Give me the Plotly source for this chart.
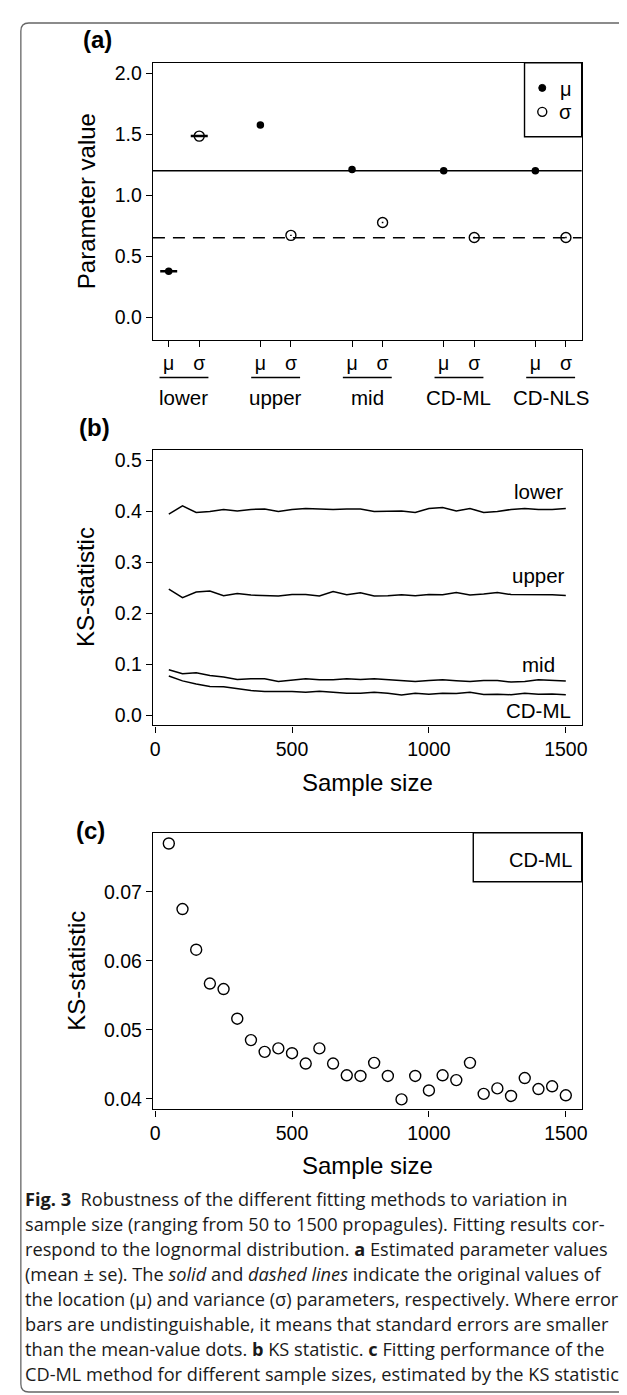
import plotly.graph_objects as go

W, H = 627, 1395

# ---------------- data ----------------
# Panel (a): estimated parameter values per fitting method
groups = ["lower", "upper", "mid", "CD-ML", "CD-NLS"]
mu_vals = [0.375, 1.575, 1.210, 1.199, 1.199]
sigma_vals = [1.484, 0.670, 0.776, 0.652, 0.652]
mu_se = [0.004, 0.0, 0.0, 0.0, 0.0]
sigma_se = [0.004, 0.0, 0.0, 0.0, 0.0]
true_mu = 1.2
true_sigma = 0.65
param_labels = ["μ", "σ"]
a_yticks = [0.0, 0.5, 1.0, 1.5, 2.0]

# Panel (b)/(c): KS statistic vs sample size
sample_size = [50, 100, 150, 200, 250, 300, 350, 400, 450, 500,
               550, 600, 650, 700, 750, 800, 850, 900, 950, 1000,
               1050, 1100, 1150, 1200, 1250, 1300, 1350, 1400, 1450, 1500]
ks_lower = [0.395, 0.411, 0.398, 0.400, 0.404, 0.401, 0.404, 0.405, 0.400, 0.404,
            0.406, 0.405, 0.404, 0.405, 0.405, 0.400, 0.401, 0.401, 0.398, 0.406,
            0.408, 0.401, 0.406, 0.398, 0.400, 0.404, 0.406, 0.404, 0.404, 0.406]
ks_upper = [0.2476, 0.231, 0.242, 0.244, 0.2345, 0.239, 0.236, 0.2345, 0.234, 0.237,
            0.237, 0.234, 0.243, 0.2365, 0.2405, 0.234, 0.2345, 0.2365, 0.2345, 0.237,
            0.2365, 0.241, 0.236, 0.238, 0.241, 0.237, 0.237, 0.2365, 0.2365, 0.235]
ks_mid = [0.0893, 0.0814, 0.0834, 0.0780, 0.0750, 0.0704, 0.0717, 0.0717, 0.0665, 0.0684,
          0.0717, 0.0697, 0.0697, 0.0717, 0.0704, 0.0717, 0.0697, 0.0678, 0.0665, 0.0684,
          0.0697, 0.0678, 0.0665, 0.0684, 0.0684, 0.0651, 0.0665, 0.0697, 0.0684, 0.0671]
ks_cdml = [0.0770, 0.0675, 0.0616, 0.0567, 0.0559, 0.0516, 0.0485, 0.0468, 0.0473, 0.0466,
           0.0451, 0.0473, 0.0451, 0.0434, 0.0433, 0.0452, 0.0433, 0.0399, 0.0433, 0.0412,
           0.0434, 0.0427, 0.0452, 0.0407, 0.0415, 0.0404, 0.0430, 0.0414, 0.0418, 0.0405]
b_series = [("lower", ks_lower, 0.439), ("upper", ks_upper, 0.275),
            ("mid", ks_mid, 0.0996), ("CD-ML", ks_cdml, 0.0098)]
b_yticks = [0.0, 0.1, 0.2, 0.3, 0.4, 0.5]
c_yticks = [0.04, 0.05, 0.06, 0.07]
x_ticks = [0, 500, 1000, 1500]

caption_lines = [
    "<b>Fig. 3</b>  Robustness of the different fitting methods to variation in",
    "sample size (ranging from 50 to 1500 propagules). Fitting results cor-",
    "respond to the lognormal distribution. <b>a</b> Estimated parameter values",
    "(mean ± se). The <i>solid</i> and <i>dashed lines</i> indicate the original values of",
    "the location (μ) and variance (σ) parameters, respectively. Where error",
    "bars are undistinguishable, it means that standard errors are smaller",
    "than the mean-value dots. <b>b</b> KS statistic. <b>c</b> Fitting performance of the",
    "CD-ML method for different sample sizes, estimated by the KS statistic",
]

# ---------------- helpers ----------------
FONT = "Liberation Sans, Arial, sans-serif"
CAP_FONT = "Open Sans, sans-serif"


def px(x):
    return x / W


def py(y):
    return 1 - y / H


mu_x = [3 * i + 1 for i in range(len(groups))]
sigma_x = [3 * i + 2 for i in range(len(groups))]

fig = go.Figure()

# ---- panel (a) ----
err_idx = [i for i in range(len(groups)) if mu_se[i] > 0]
fig.add_trace(go.Scatter(
    x=[mu_x[i] for i in err_idx] + [sigma_x[i] for i in err_idx],
    y=[mu_vals[i] for i in err_idx] + [sigma_vals[i] for i in err_idx],
    mode="markers", marker=dict(size=1, opacity=0),
    error_y=dict(type="data", array=[mu_se[i] for i in err_idx] + [sigma_se[i] for i in err_idx],
                 color="black", thickness=1.5, width=8.5),
    xaxis="x", yaxis="y", showlegend=False, hoverinfo="skip"))
# tiny error segments visible inside the open circles
fig.add_trace(go.Scatter(
    x=[sigma_x[i] for i in range(len(groups)) if i not in err_idx],
    y=[sigma_vals[i] for i in range(len(groups)) if i not in err_idx],
    mode="markers", marker=dict(size=1, opacity=0),
    error_y=dict(type="constant", value=0.006, color="black", thickness=1.6, width=0),
    xaxis="x", yaxis="y", showlegend=False, hoverinfo="skip"))
fig.add_trace(go.Scatter(x=mu_x, y=mu_vals, mode="markers", name="μ",
                         marker=dict(symbol="circle", size=7.5, color="black"),
                         xaxis="x", yaxis="y", showlegend=False))
fig.add_trace(go.Scatter(x=sigma_x, y=sigma_vals, mode="markers", name="σ",
                         marker=dict(symbol="circle-open", size=10, color="black",
                                     line=dict(width=1.4, color="black")),
                         xaxis="x", yaxis="y", showlegend=False))

# ---- panel (b) ----
for name, vals, ly in b_series:
    fig.add_trace(go.Scatter(x=sample_size, y=vals, mode="lines", name=name,
                             line=dict(color="black", width=1.5),
                             xaxis="x2", yaxis="y2", showlegend=False))

# ---- panel (c) ----
fig.add_trace(go.Scatter(x=sample_size, y=ks_cdml, mode="markers", name="CD-ML",
                         marker=dict(symbol="circle-open", size=11, color="black",
                                     line=dict(width=1.4, color="black")),
                         xaxis="x3", yaxis="y3", showlegend=False))

xdom = [px(144), px(579)]
axis_common = dict(showline=True, linecolor="black", linewidth=1.4, mirror=True,
                   ticks="outside", tickcolor="black", tickwidth=1.3, ticklen=6,
                   showgrid=False, zeroline=False,
                   tickfont=dict(family=FONT, size=19.5, color="black"))

fig.update_layout(
    width=W, height=H, margin=dict(l=0, r=0, t=0, b=0),
    paper_bgcolor="white", plot_bgcolor="white",
    xaxis=dict(domain=xdom, range=[0.484, 3 * len(groups) - 0.484],
               tickvals=mu_x + sigma_x,
               ticktext=[param_labels[0]] * len(groups) + [param_labels[1]] * len(groups),
               anchor="y", **axis_common),
    yaxis=dict(domain=[py(331), py(54)], range=[-0.184, 2.084],
               tickvals=a_yticks, ticktext=[f"{v:.1f}" for v in a_yticks],
               anchor="x", **axis_common),
    xaxis2=dict(domain=xdom, range=[-8, 1558], tickvals=x_ticks,
                anchor="y2", **axis_common),
    yaxis2=dict(domain=[py(717.5), py(442)], range=[-0.02, 0.52],
                tickvals=b_yticks, ticktext=[f"{v:.1f}" for v in b_yticks],
                anchor="x2", **axis_common),
    xaxis3=dict(domain=xdom, range=[-8, 1558], tickvals=x_ticks,
                anchor="y3", **axis_common),
    yaxis3=dict(domain=[py(1102), py(825)], range=[0.03845, 0.07855],
                tickvals=c_yticks, ticktext=[f"{v:.2f}" for v in c_yticks],
                anchor="x3", **axis_common),
)

shapes = []
annotations = []

# reference lines in (a)
shapes.append(dict(type="line", xref="x domain", yref="y", x0=0, x1=1, y0=true_mu, y1=true_mu,
                   line=dict(color="black", width=1.4)))
shapes.append(dict(type="line", xref="x domain", yref="y", x0=0, x1=1, y0=true_sigma, y1=true_sigma,
                   line=dict(color="black", width=1.4, dash="12px,8px")))

# group underlines + names in (a)
for i, g in enumerate(groups):
    cx = (mu_x[i] + sigma_x[i]) / 2
    shapes.append(dict(type="line", xref="x", yref="paper", x0=cx - 0.8, x1=cx + 0.8,
                       y0=py(369), y1=py(369), line=dict(color="black", width=1.4)))
    annotations.append(dict(x=cx, y=py(389), xref="x", yref="paper", text=g, showarrow=False,
                            xanchor="center", yanchor="middle",
                            font=dict(family=FONT, size=20.5, color="black")))

# legend in (a)
shapes.append(dict(type="rect", xref="paper", yref="paper", x0=px(521), x1=px(579),
                   y0=py(128), y1=py(54), line=dict(color="black", width=1.4)))
shapes.append(dict(type="circle", xref="paper", yref="paper", xsizemode="pixel", ysizemode="pixel",
                   xanchor=px(539), yanchor=py(79), x0=-3.5, x1=3.5, y0=-3.5, y1=3.5,
                   fillcolor="black", line=dict(color="black", width=1)))
shapes.append(dict(type="circle", xref="paper", yref="paper", xsizemode="pixel", ysizemode="pixel",
                   xanchor=px(539), yanchor=py(103), x0=-4.5, x1=4.5, y0=-4.5, y1=4.5,
                   line=dict(color="black", width=1.4)))
annotations.append(dict(x=px(563), y=py(80), xref="paper", yref="paper", text="μ", showarrow=False,
                        xanchor="center", yanchor="middle", font=dict(family=FONT, size=20, color="black")))
annotations.append(dict(x=px(563), y=py(103), xref="paper", yref="paper", text="σ", showarrow=False,
                        xanchor="center", yanchor="middle", font=dict(family=FONT, size=20, color="black")))

# series labels in (b)
for name, vals, ly in b_series:
    annotations.append(dict(x=1400, y=ly, xref="x2", yref="y2", text=name, showarrow=False,
                            xanchor="center", yanchor="middle",
                            font=dict(family=FONT, size=20.5, color="black")))

# legend box in (c)
shapes.append(dict(type="rect", xref="paper", yref="paper", x0=px(469), x1=px(579),
                   y0=py(874), y1=py(825), line=dict(color="black", width=1.4)))
annotations.append(dict(x=px(571), y=py(852), xref="paper", yref="paper", text="CD-ML", showarrow=False,
                        xanchor="right", yanchor="middle", font=dict(family=FONT, size=20, color="black")))

# panel labels
for lab, x, y in [("(a)", 88, 31), ("(b)", 85, 419), ("(c)", 81, 823)]:
    annotations.append(dict(x=px(x), y=py(y), xref="paper", yref="paper", text=f"<b>{lab}</b>",
                            showarrow=False, xanchor="center", yanchor="middle",
                            font=dict(family=FONT, size=24, color="black")))

# axis titles
for txt, x, y, ang in [("Parameter value", 76, 192.5, -90), ("KS-statistic", 75, 579, -90),
                       ("KS-statistic", 67, 963, -90), ("Sample size", 362, 775, 0),
                       ("Sample size", 362, 1158, 0)]:
    annotations.append(dict(x=px(x), y=py(y), xref="paper", yref="paper", text=txt, showarrow=False,
                            textangle=ang, xanchor="center", yanchor="middle",
                            font=dict(family=FONT, size=24, color="black")))

# caption
for i, line in enumerate(caption_lines):
    annotations.append(dict(x=px(12), y=py(1192 + 25 * i), xref="paper", yref="paper", text=line,
                            showarrow=False, xanchor="left", yanchor="middle",
                            font=dict(family=CAP_FONT, size=18.2, color="#1a1a1a")))

# outer rounded border (runs off the right edge)
x0, x1, y0, y1, r = 10, 660, 14, 1385, 8
path = (f"M {px(x0 + r)},{py(y0)} L {px(x1)},{py(y0)} L {px(x1)},{py(y1)} "
        f"L {px(x0 + r)},{py(y1)} Q {px(x0)},{py(y1)} {px(x0)},{py(y1 - r)} "
        f"L {px(x0)},{py(y0 + r)} Q {px(x0)},{py(y0)} {px(x0 + r)},{py(y0)} Z")
shapes.append(dict(type="path", xref="paper", yref="paper", path=path,
                   line=dict(color="#666666", width=1.3)))

fig.update_layout(shapes=shapes, annotations=annotations)
fig.write_html("out.html")
